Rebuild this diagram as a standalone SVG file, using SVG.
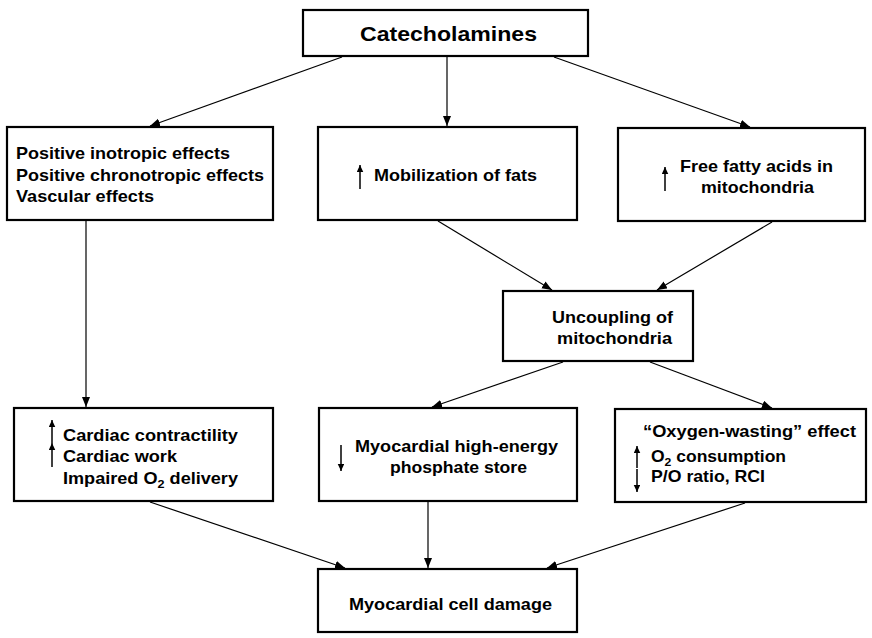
<svg xmlns="http://www.w3.org/2000/svg" width="872" height="638" viewBox="0 0 872 638">
  <style>
    .box { fill: #ffffff; stroke: #000000; stroke-width: 2.2; }
    .lbl { font-family: "Liberation Sans", Arial, sans-serif; font-weight: bold; font-size: 16.5px; fill: #000000; }
    .title { font-size: 21px; }
    .mid { text-anchor: middle; }
    .sub { font-size: 11.5px; }
    .edge { fill: none; stroke: #000000; stroke-width: 1.2; }
    .tick { fill: none; stroke: #000000; stroke-width: 1.5; }
  </style>
  <defs>
    <marker id="head" markerUnits="userSpaceOnUse" markerWidth="12" markerHeight="10" refX="10" refY="4" orient="auto">
      <path d="M0,0 L10,4 L0,8 Z" fill="#000000"/>
    </marker>
    <marker id="small" markerUnits="userSpaceOnUse" markerWidth="8" markerHeight="7" refX="7" refY="3.25" orient="auto">
      <path d="M0,0 L7,3.25 L0,6.5 Z" fill="#000000"/>
    </marker>
  </defs>

  <!-- connectors -->
  <g id="connectors">
    <line class="edge" x1="342" y1="57" x2="150" y2="126" marker-end="url(#head)"/>
    <line class="edge" x1="447" y1="57" x2="447" y2="126" marker-end="url(#head)"/>
    <line class="edge" x1="554" y1="57" x2="750" y2="127" marker-end="url(#head)"/>
    <line class="edge" x1="86" y1="221" x2="86" y2="407" marker-end="url(#head)"/>
    <line class="edge" x1="438" y1="221" x2="552" y2="290" marker-end="url(#head)"/>
    <line class="edge" x1="772" y1="222" x2="657" y2="290" marker-end="url(#head)"/>
    <line class="edge" x1="563" y1="362" x2="432" y2="407" marker-end="url(#head)"/>
    <line class="edge" x1="650" y1="362" x2="772" y2="408" marker-end="url(#head)"/>
    <line class="edge" x1="150" y1="502" x2="345" y2="568" marker-end="url(#head)"/>
    <line class="edge" x1="428" y1="502" x2="428" y2="568" marker-end="url(#head)"/>
    <line class="edge" x1="745" y1="503" x2="547" y2="568" marker-end="url(#head)"/>
  </g>

  <g id="catecholamines">
    <rect class="box" x="303" y="10" width="285" height="46"/>
    <text class="lbl title" x="360" y="41" textLength="177" lengthAdjust="spacingAndGlyphs">Catecholamines</text>
  </g>

  <g id="cardiac-effects">
    <rect class="box" x="7" y="127" width="266" height="93"/>
    <text class="lbl" x="16" y="159" textLength="214" lengthAdjust="spacingAndGlyphs">Positive inotropic effects</text>
    <text class="lbl" x="16" y="181" textLength="248" lengthAdjust="spacingAndGlyphs">Positive chronotropic effects</text>
    <text class="lbl" x="16" y="202" textLength="138" lengthAdjust="spacingAndGlyphs">Vascular effects</text>
  </g>

  <g id="fat-mobilization">
    <rect class="box" x="318" y="127" width="259" height="93"/>
    <line class="tick" x1="360" y1="189" x2="360" y2="165" marker-end="url(#small)"/>
    <text class="lbl" x="374" y="181" textLength="163" lengthAdjust="spacingAndGlyphs">Mobilization of fats</text>
  </g>

  <g id="free-fatty-acids">
    <rect class="box" x="618" y="128" width="247" height="93"/>
    <line class="tick" x1="665" y1="191" x2="665" y2="167" marker-end="url(#small)"/>
    <text class="lbl mid" x="756.5" y="172" textLength="153" lengthAdjust="spacingAndGlyphs">Free fatty acids in</text>
    <text class="lbl mid" x="757.5" y="193" textLength="113" lengthAdjust="spacingAndGlyphs">mitochondria</text>
  </g>

  <g id="uncoupling">
    <rect class="box" x="503" y="291" width="190" height="70"/>
    <text class="lbl mid" x="612.5" y="323" textLength="121" lengthAdjust="spacingAndGlyphs">Uncoupling of</text>
    <text class="lbl mid" x="614.5" y="344" textLength="115" lengthAdjust="spacingAndGlyphs">mitochondria</text>
  </g>

  <g id="cardiac-work">
    <rect class="box" x="14" y="408" width="259" height="93"/>
    <line class="tick" x1="52" y1="443" x2="52" y2="420" marker-end="url(#small)"/>
    <line class="tick" x1="52" y1="467" x2="52" y2="443" marker-end="url(#small)"/>
    <text class="lbl" x="63" y="441" textLength="175" lengthAdjust="spacingAndGlyphs">Cardiac contractility</text>
    <text class="lbl" x="63" y="462" textLength="114" lengthAdjust="spacingAndGlyphs">Cardiac work</text>
    <text class="lbl" x="63" y="484" textLength="175" lengthAdjust="spacingAndGlyphs">Impaired  O<tspan class="sub" dy="4">2</tspan><tspan dy="-4"> delivery</tspan></text>
  </g>

  <g id="phosphate-store">
    <rect class="box" x="319" y="408" width="258" height="93"/>
    <line class="tick" x1="341" y1="445" x2="341" y2="471" marker-end="url(#small)"/>
    <text class="lbl mid" x="456.5" y="452" textLength="203" lengthAdjust="spacingAndGlyphs">Myocardial high-energy</text>
    <text class="lbl mid" x="458.5" y="473" textLength="137" lengthAdjust="spacingAndGlyphs">phosphate store</text>
  </g>

  <g id="oxygen-wasting">
    <rect class="box" x="615" y="409" width="251" height="93"/>
    <line class="tick" x1="637" y1="468" x2="637" y2="446" marker-end="url(#small)"/>
    <line class="tick" x1="637" y1="469" x2="637" y2="492" marker-end="url(#small)"/>
    <text class="lbl" x="643" y="437" textLength="213" lengthAdjust="spacingAndGlyphs">“Oxygen-wasting” effect</text>
    <text class="lbl" x="651" y="462" textLength="135" lengthAdjust="spacingAndGlyphs">O<tspan class="sub" dy="4">2</tspan><tspan dy="-4"> consumption</tspan></text>
    <text class="lbl" x="651" y="482" textLength="114" lengthAdjust="spacingAndGlyphs">P/O ratio, RCI</text>
  </g>

  <g id="cell-damage">
    <rect class="box" x="318" y="569" width="259" height="63"/>
    <text class="lbl" x="349" y="610" textLength="203" lengthAdjust="spacingAndGlyphs">Myocardial cell damage</text>
  </g>
</svg>
